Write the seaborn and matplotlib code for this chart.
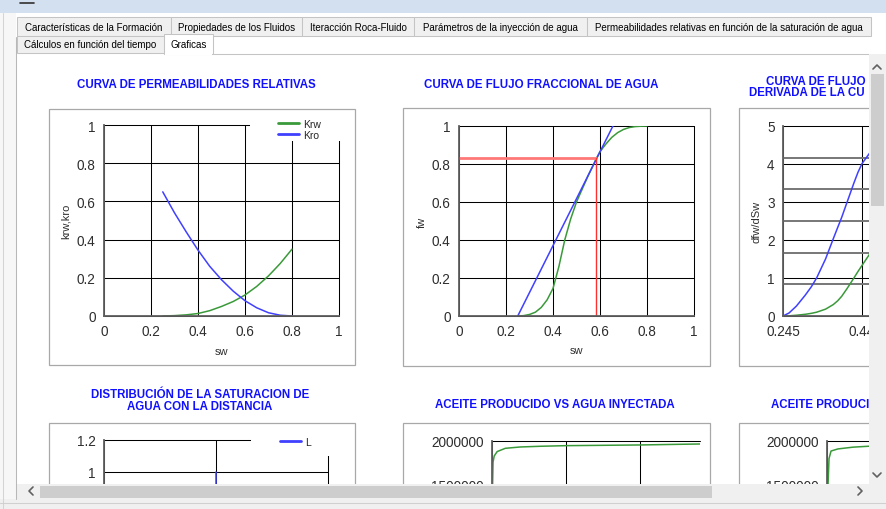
import numpy as np
import pandas as pd
import matplotlib
matplotlib.use("Agg")
import matplotlib.pyplot as plt
import seaborn as sns
from matplotlib.patches import Rectangle
from matplotlib.lines import Line2D
from matplotlib.ticker import FuncFormatter, MultipleLocator

# ---- values ----
tabs_row1 = ["Características de la Formación", "Propiedades de los Fluidos",
             "Iteracción Roca-Fluido", "Parámetros de la inyección de agua",
             "Permeabilidades relativas en función de la saturación de agua"]
tabs_row2 = ["Cálculos en función del tiempo", "Graficas"]

# relative permeabilities
sw_kr = [0.25, 0.30, 0.35, 0.40, 0.45, 0.50, 0.55, 0.60, 0.65, 0.70, 0.75, 0.80]
krw = [0.0, 0.002, 0.006, 0.013, 0.028, 0.05, 0.076, 0.11, 0.155, 0.21, 0.275, 0.35]
kro = [0.65, 0.54, 0.44, 0.345, 0.26, 0.19, 0.13, 0.08, 0.043, 0.017, 0.004, 0.0]

# fractional flow
sw_fw = [0.25, 0.275, 0.30, 0.325, 0.35, 0.375, 0.40, 0.425, 0.45, 0.475, 0.50, 0.525,
         0.55, 0.585, 0.60, 0.625, 0.65, 0.675, 0.70, 0.725, 0.75, 0.775, 0.80]
fw = [0.0, 0.002, 0.008, 0.02, 0.045, 0.085, 0.145, 0.26, 0.40, 0.51, 0.60, 0.67,
      0.74, 0.83, 0.865, 0.905, 0.94, 0.965, 0.982, 0.992, 0.997, 0.999, 1.0]
sw_tan = [0.25, 0.655]
fw_tan = [0.0, 1.0]
sw_front = 0.585
fw_front = 0.83

# derivative dfw/dSw
sw_der = [0.245, 0.26, 0.278, 0.30, 0.315, 0.328, 0.35, 0.369, 0.38, 0.39, 0.403, 0.42,
          0.43, 0.44, 0.457, 0.47]
dfw_blue = [0.0, 0.08, 0.26, 0.55, 0.77, 1.0, 1.5, 2.03, 2.33, 2.6, 2.99, 3.5,
            3.78, 4.01, 4.26, 4.45]
dfw_green = [0.0, 0.005, 0.02, 0.045, 0.07, 0.1, 0.18, 0.3, 0.4, 0.52, 0.72, 1.0,
             1.17, 1.33, 1.6, 1.8]

# saturation vs distance (only the L marker is visible)
dist_L = [500, 500]
sat_L = [0.0, 1.0]

# oil produced vs water injected (MMbbl)
wi = [0.0, 0.005, 0.014, 0.03, 0.07, 0.18, 0.38, 0.65, 1.0, 1.5, 2.0, 2.5, 2.81]
np_wi = [900000, 1400000, 1760000, 1830000, 1880000, 1917000, 1932000, 1940000,
         1947000, 1951000, 1955000, 1962000, 1966000]

# oil produced vs time (days)
t_days = [0, 10, 29, 58, 158, 375, 590, 1000, 2000, 3000]
np_t = [600000, 1400000, 1800000, 1886000, 1910000, 1930000, 1940000, 1950000, 1960000, 1970000]

GREEN = '#3a9a3a'
BLUE = '#4040ff'
TITLE = '#1010ff'
TXT = '#2e2e2e'

sns.set_style('white')
plt.rcParams['font.family'] = ['Liberation Sans', 'DejaVu Sans']

W, H = 886, 510
fig = plt.figure(figsize=(W / 100, H / 100), dpi=100)
fig.patch.set_facecolor('white')


def px_box(x0, y0, x1, y1):
    return [x0 / W, 1 - y1 / H, (x1 - x0) / W, (y1 - y0) / H]


def rect(x0, y0, x1, y1, fc, ec='none', lw=0.0, z=10):
    fig.add_artist(Rectangle((x0 / W, 1 - y1 / H), (x1 - x0) / W, (y1 - y0) / H,
                             transform=fig.transFigure, facecolor=fc,
                             edgecolor=ec, linewidth=lw, zorder=z))


def line(xs, ys, color, lw=0.75, z=10):
    fig.add_artist(Line2D([x / W for x in xs], [1 - y / H for y in ys],
                          transform=fig.transFigure, color=color, lw=lw, zorder=z))


def text(x, y, s, **kw):
    kw.setdefault('ha', 'center')
    kw.setdefault('va', 'center')
    return fig.text(x / W, 1 - y / H, s, **kw)


def num(v, pos=None):
    if abs(v) >= 1000:
        return f"{v:.0f}"
    return f"{round(v, 3):g}"


def style_chart(ax, xlim, ylim, xticks, yticks, xlabels=True):
    ax.set_xlim(xlim)
    ax.set_ylim(ylim)
    ax.set_xticks(xticks)
    ax.set_yticks(yticks)
    ax.xaxis.set_major_formatter(FuncFormatter(num))
    ax.yaxis.set_major_formatter(FuncFormatter(num))
    ax.grid(True, color='black', lw=0.75)
    ax.set_axisbelow(True)
    ax.set_facecolor('none')
    for s in ('top', 'right'):
        ax.spines[s].set_visible(False)
    for s in ('left', 'bottom'):
        ax.spines[s].set_color('#5f5f5f')
        ax.spines[s].set_linewidth(1.3)
    ax.tick_params(length=4, width=0.8, color='#5f5f5f', labelsize=9.8,
                   labelcolor=TXT, pad=2, labelbottom=xlabels)
    ax.set_xlabel('')
    ax.set_ylabel('')


def unclip_grid(ax):
    for gl in ax.get_xgridlines() + ax.get_ygridlines():
        gl.set_clip_on(False)


def move_legend(ax, x, y):
    leg = ax.get_legend()
    handles = leg.legend_handles
    labels = [t.get_text() for t in leg.get_texts()]
    leg.remove()
    for h in handles:
        h.set_linewidth(2)
    fig.legend(handles, labels, loc='upper left', bbox_to_anchor=(x / W, 1 - y / H),
               frameon=False, fontsize=7.5, handlelength=2.0, handletextpad=0.4,
               labelspacing=0.05, borderpad=0, borderaxespad=0)


# ---- chart 1: relative permeabilities ----
ax1 = fig.add_axes(px_box(104, 126, 339, 317))
kr_df = pd.DataFrame({'sw': sw_kr + sw_kr, 'kr': krw + kro,
                      'serie': ['Krw'] * len(sw_kr) + ['Kro'] * len(sw_kr)})
sns.lineplot(data=kr_df, x='sw', y='kr', hue='serie', palette={'Krw': GREEN, 'Kro': BLUE},
             estimator=None, sort=False, lw=1.1, ax=ax1)
style_chart(ax1, (0, 1), (0, 1), np.arange(0, 1.01, 0.2), np.arange(0, 1.01, 0.2))
ax1.set_xlabel('sw', fontsize=8, color=TXT)
ax1.set_ylabel('krw,kro', fontsize=8, color=TXT)
ax1.xaxis.set_label_coords(0.5, -0.155)
ax1.yaxis.set_label_coords(-0.14, 0.5)
rect(250, 112, 346, 142, 'white', z=1)
move_legend(ax1, 278, 120)
unclip_grid(ax1)

# ---- chart 2: fractional flow ----
ax2 = fig.add_axes(px_box(459, 127, 694, 317))
sns.lineplot(x=sw_fw, y=fw, color=GREEN, lw=1.1, estimator=None, sort=False, ax=ax2)
sns.lineplot(x=sw_tan, y=fw_tan, color=BLUE, lw=1.1, estimator=None, sort=False, ax=ax2)
ax2.plot([0, sw_front], [fw_front, fw_front], color='#ff7878', lw=2.0)
ax2.plot([sw_front, sw_front], [0, fw_front], color='#ff3030', lw=1.0)
style_chart(ax2, (0, 1), (0, 1), np.arange(0, 1.01, 0.2), np.arange(0, 1.01, 0.2))
ax2.set_xlabel('sw', fontsize=8, color=TXT)
ax2.set_ylabel('fw', fontsize=8, color=TXT)
ax2.xaxis.set_label_coords(0.5, -0.155)
ax2.yaxis.set_label_coords(-0.136, 0.5)
unclip_grid(ax2)

# ---- chart 3: derivative (cut by the scrollbar) ----
ax3 = fig.add_axes(px_box(783, 127, 1020, 317))
sns.lineplot(x=sw_der, y=dfw_green, color=GREEN, lw=1.1, estimator=None, sort=False, ax=ax3)
sns.lineplot(x=sw_der, y=dfw_blue, color=BLUE, lw=1.1, estimator=None, sort=False, ax=ax3)
style_chart(ax3, (0.245, 0.83), (0, 5), [0.245, 0.44], np.arange(0, 5.01, 1))
ax3.yaxis.set_minor_locator(MultipleLocator(5 / 6))
ax3.grid(True, which='minor', axis='y', color='#777777', lw=1.4)
ax3.set_ylabel('dfw/dSw', fontsize=8, color=TXT)
ax3.yaxis.set_label_coords(-0.089, 0.5)
unclip_grid(ax3)

# ---- chart 4: saturation vs distance ----
ax4 = fig.add_axes(px_box(104, 441, 328, 633))
sat_df = pd.DataFrame({'x': dist_L, 'sw': sat_L, 'serie': ['L'] * len(dist_L)})
sns.lineplot(data=sat_df, x='x', y='sw', hue='serie', palette={'L': BLUE},
             estimator=None, sort=False, lw=1.1, ax=ax4)
style_chart(ax4, (0, 1000), (0, 1.2), [0, 500, 1000], [1.0, 1.2], xlabels=False)
rect(251, 428, 341, 457, 'white', z=1)
move_legend(ax4, 280, 438)
unclip_grid(ax4)

# ---- chart 5: oil produced vs water injected ----
ax5 = fig.add_axes(px_box(492, 442, 700, 618))
sns.lineplot(x=wi, y=np_wi, color=GREEN, lw=1.1, estimator=None, sort=False, ax=ax5)
style_chart(ax5, (0, 2.81), (0, 2000000), [0, 1, 2], [1500000, 2000000], xlabels=False)
unclip_grid(ax5)

# ---- chart 6: oil produced vs time ----
ax6 = fig.add_axes(px_box(827, 442, 1035, 618))
sns.lineplot(x=t_days, y=np_t, color=GREEN, lw=1.1, estimator=None, sort=False, ax=ax6)
style_chart(ax6, (0, 3000), (0, 2000000), [0, 1000], [1500000, 2000000], xlabels=False)
unclip_grid(ax6)

# ---- chart titles and panel borders ----
tkw = dict(color=TITLE, fontsize=8.3, fontweight='bold')
text(196, 85, 'CURVA DE PERMEABILIDADES RELATIVAS', **tkw)
text(541, 85, 'CURVA DE FLUJO FRACCIONAL DE AGUA', **tkw)
text(766, 82, 'CURVA DE FLUJO', ha='left', **tkw)
text(749, 93.5, 'DERIVADA DE LA CU', ha='left', **tkw)
text(200, 395, 'DISTRIBUCIÓN DE LA SATURACION DE', **tkw)
text(200, 407, 'AGUA CON LA DISTANCIA', **tkw)
text(555, 405, 'ACEITE PRODUCIDO VS AGUA INYECTADA', **tkw)
text(771, 405, 'ACEITE PRODUCI', ha='left', **tkw)

for (x0, y0, x1, y1) in [(49, 110, 355, 366), (403, 109, 710, 367), (739, 109, 1050, 367),
                         (49, 424, 355, 700), (403, 424, 710, 700), (739, 424, 1050, 700)]:
    rect(x0, y0, x1, y1, 'none', ec='#a8a8a8', lw=0.9, z=1)

# ---- window chrome: tabs, scrollbars, borders ----
rect(0, 0, 886, 14, '#d3e0ef', z=10)
line([20, 34], [4, 4], '#303030', lw=1.2, z=11)

tab_fs = dict(fontsize=7.0, color='black', zorder=12)
edges1 = [17, 171, 302, 414, 587, 871]
for i, lab in enumerate(tabs_row1):
    rect(edges1[i], 18, edges1[i + 1], 37, '#f0f0f0', ec='#c4c4c4', lw=0.75, z=10)
    text((edges1[i] + edges1[i + 1]) / 2, 28, lab, **tab_fs)
rect(17, 37, 164, 54, '#f0f0f0', ec='#c4c4c4', lw=0.75, z=10)
text(90.5, 45.5, tabs_row2[0], **tab_fs)
rect(164, 35, 213, 55, 'white', ec='#c4c4c4', lw=0.75, z=10)
rect(164.6, 54, 212.4, 56, 'white', z=11)
text(188.5, 44.5, tabs_row2[1], **tab_fs)
line([213, 869], [54.5, 54.5], '#c4c4c4', lw=0.75, z=10)

# left window border
rect(0, 14, 16, 510, '#f7f7f7', z=10)
line([2.5, 2.5], [14, 510], '#d4d4d4', lw=0.75, z=11)
line([15.5, 15.5], [38, 500], '#b8b8b8', lw=0.75, z=11)

# vertical scrollbar
rect(869, 55, 886, 485, '#f0f0f0', z=10)
rect(871, 75, 884, 207, '#cdcdcd', z=11)
line([873, 877, 881], [70, 66, 70], '#606060', lw=1.2, z=12)
line([873, 877, 881], [474, 478, 474], '#606060', lw=1.2, z=12)

# horizontal scrollbar
rect(16, 485, 886, 500, '#f0f0f0', z=10)
rect(40, 487, 712, 499, '#cdcdcd', z=11)
line([33, 29, 33], [488, 492, 496], '#606060', lw=1.2, z=12)
line([858, 862, 858], [488, 492, 496], '#606060', lw=1.2, z=12)

# bottom strip
rect(0, 500, 886, 510, '#f0f0f0', z=10)
line([0, 886], [503.5, 503.5], '#d0d0d0', lw=0.75, z=11)

fig.savefig('out.png', dpi=100)
